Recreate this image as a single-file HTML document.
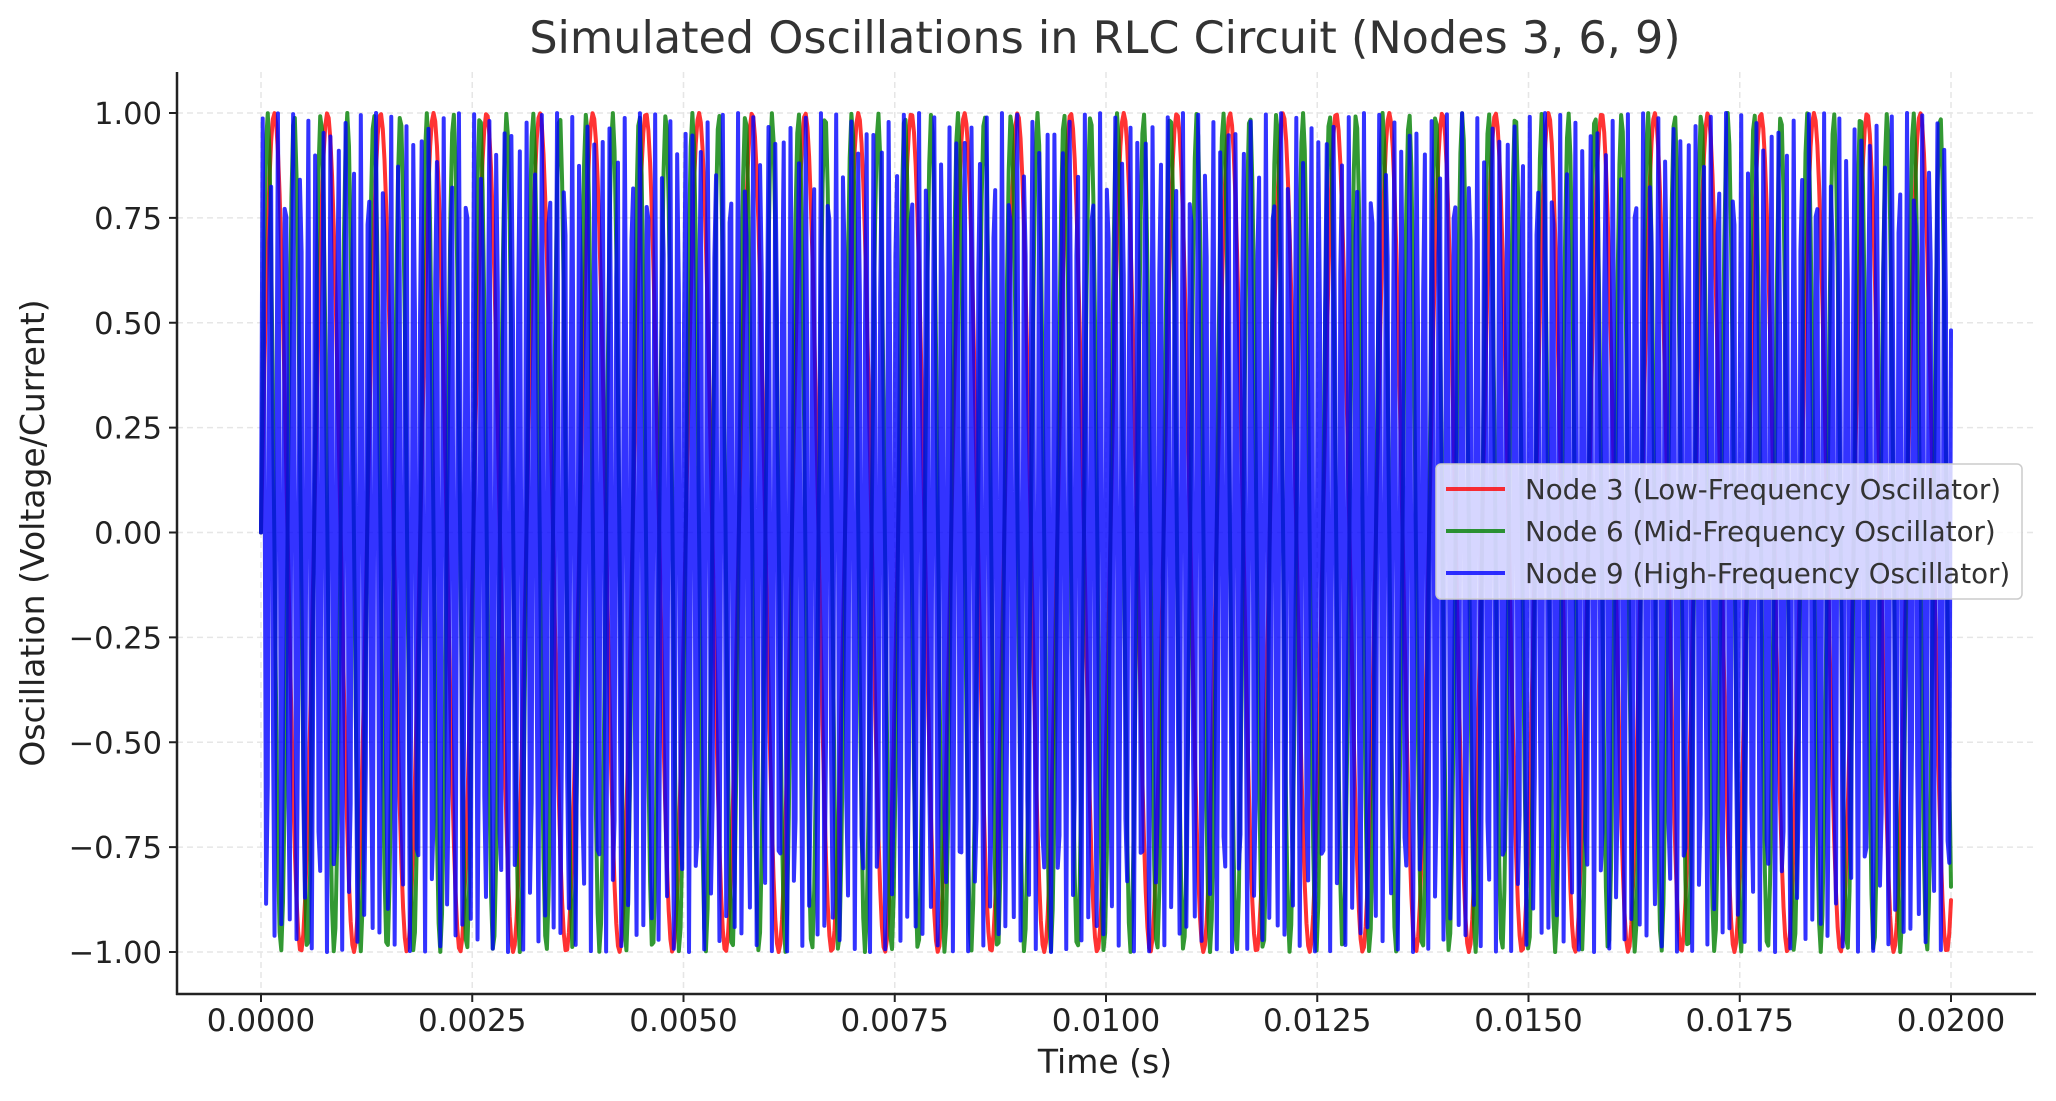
<!DOCTYPE html>
<html><head><meta charset="utf-8"><style>
html,body{margin:0;padding:0;background:#fff;}
svg{display:block;font-family:"DejaVu Sans","Liberation Sans",sans-serif;}
</style></head><body>
<svg id="chart" width="2056" height="1101" viewBox="0 0 2056 1101">
<text x="1105" y="53" font-size="44.5" fill="#333" text-anchor="middle">Simulated Oscillations in RLC Circuit (Nodes 3, 6, 9)</text>
<g id="grid"></g>
<g id="series"></g>
<g id="axes"></g>
<text x="1105" y="1073" font-size="33" fill="#222" text-anchor="middle">Time (s)</text>
<text transform="translate(44,533) rotate(-90)" font-size="33" fill="#222" text-anchor="middle">Oscillation (Voltage/Current)</text>
<g id="legend">
<rect x="1436" y="464" width="586" height="135" rx="5" fill="rgba(255,255,255,0.8)" stroke="#ccc" stroke-width="1.5"/>
<line x1="1446" y1="489" x2="1505" y2="489" stroke="rgba(255,0,0,0.8)" stroke-width="4"/>
<text x="1525" y="499" font-size="27.7" fill="#333">Node 3 (Low-Frequency Oscillator)</text>
<line x1="1446" y1="531" x2="1505" y2="531" stroke="rgba(0,128,0,0.8)" stroke-width="4"/>
<text x="1525" y="541" font-size="27.7" fill="#333">Node 6 (Mid-Frequency Oscillator)</text>
<line x1="1446" y1="573" x2="1505" y2="573" stroke="rgba(0,0,255,0.8)" stroke-width="4"/>
<text x="1525" y="583" font-size="27.7" fill="#333">Node 9 (High-Frequency Oscillator)</text>
</g>
</svg>
<script>
const seriesNames = ["Node 3", "Node 6", "Node 9"];
const seriesFreqHz = [1591.5, 3183, 11204];
const seriesAmp = [1, 1, 1];
const seriesColors = ["rgba(255,0,0,0.8)", "rgba(0,128,0,0.8)", "rgba(0,0,255,0.8)"];
const timeStart = 0, timeEnd = 0.02, sampleCount = 1000;
const xTicks = [0, 0.0025, 0.005, 0.0075, 0.01, 0.0125, 0.015, 0.0175, 0.02];
const xTickLabels = ["0.0000","0.0025","0.0050","0.0075","0.0100","0.0125","0.0150","0.0175","0.0200"];
const yTicks = [1, 0.75, 0.5, 0.25, 0, -0.25, -0.5, -0.75, -1];
const yTickLabels = ["1.00","0.75","0.50","0.25","0.00","\u22120.25","\u22120.50","\u22120.75","\u22121.00"];

const NS = "http://www.w3.org/2000/svg";
const L = 177, R = 2036, T = 72, B = 994;
const X = t => 261 + (t - 0) / 0.02 * 1690;
const Y = v => 532.5 - v * 419.5;

const grid = document.getElementById('grid');
const axes = document.getElementById('axes');
const sg = document.getElementById('series');
function mk(tag, attrs, parent) { const e = document.createElementNS(NS, tag); for (const k in attrs) e.setAttribute(k, attrs[k]); parent.appendChild(e); return e; }

xTicks.forEach((t, i) => {
  const g = mk('line', {x1: X(t), x2: X(t), y1: T, y2: B, stroke: '#e6e6e6', 'stroke-width': 1.5, 'stroke-dasharray': '6,4'}, grid);
  
  
  const tk = mk('line', {x1: X(t), x2: X(t), y1: B, y2: B + 8, stroke: '#222', 'stroke-width': 2}, axes);
  
  
  const tx = mk('text', {x: X(t), y: B + 37, 'font-size': 31, fill: '#222', 'text-anchor': 'middle'}, axes);
  tx.textContent = xTickLabels[i];
  
  
});
yTicks.forEach((v, i) => {
  const g = mk('line', {x1: L, x2: R, y1: Y(v), y2: Y(v), stroke: '#e6e6e6', 'stroke-width': 1.5, 'stroke-dasharray': '6,4'}, grid);
  
  
  const tk = mk('line', {x1: L - 8, x2: L, y1: Y(v), y2: Y(v), stroke: '#222', 'stroke-width': 2}, axes);
  
  
  const tx = mk('text', {x: L - 15, y: Y(v) + 11, 'font-size': 30.5, fill: '#222', 'text-anchor': 'end'}, axes);
  tx.textContent = yTickLabels[i];
  
  
});
const sl = mk('line', {x1: L, x2: L, y1: T, y2: B + 1, stroke: '#222', 'stroke-width': 2.5}, axes);


const sb = mk('line', {x1: L - 1, x2: R, y1: B, y2: B, stroke: '#222', 'stroke-width': 2.5}, axes);



seriesFreqHz.forEach((f, s) => {
  let d = '';
  for (let i = 0; i < sampleCount; i++) {
    const t = timeStart + (timeEnd - timeStart) * i / (sampleCount - 1);
    const v = seriesAmp[s] * Math.sin(2 * Math.PI * f * t);
    d += (i ? 'L' : 'M') + X(t).toFixed(2) + ' ' + Y(v).toFixed(2);
  }
  const p = mk('path', {d: d, fill: 'none', stroke: seriesColors[s], 'stroke-width': 4, 'stroke-linejoin': 'round', 'stroke-linecap': 'round'}, sg);
  
  
});
</script>
</body></html>
